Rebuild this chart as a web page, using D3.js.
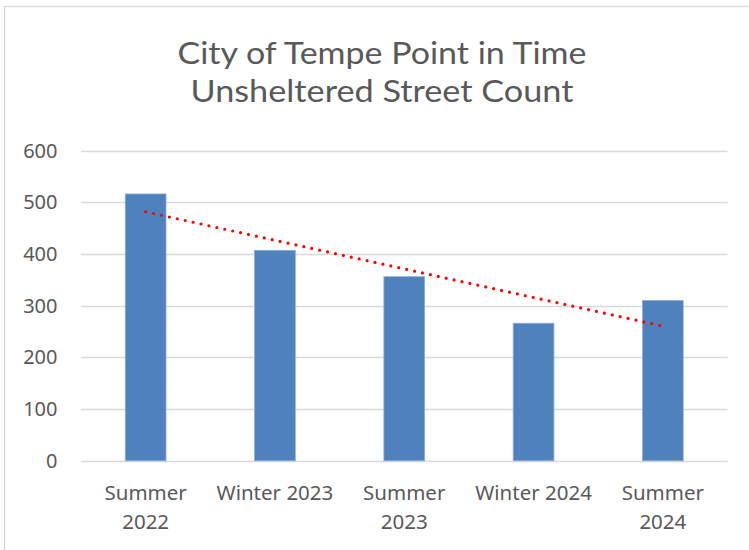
<!DOCTYPE html>
<html><head><meta charset="utf-8">
<script src="https://cdn.jsdelivr.net/npm/d3@7"></script>
<style>html,body{margin:0;padding:0;background:#fff;}svg{display:block;}</style>
</head><body>
<script>
const categories = [["Summer","2022"],["Winter 2023"],["Summer","2023"],["Winter 2024"],["Summer","2024"]];
const values = [516, 407, 356, 266, 310];
const yTicks = [0, 100, 200, 300, 400, 500, 600];
const titleLines = ["City of Tempe Point in Time", "Unsheltered Street Count"];

const W = 749, H = 550;
const svg = d3.select("body").append("svg").attr("width", W).attr("height", H);
svg.append("rect").attr("x", 0).attr("y", 0).attr("width", W).attr("height", H).attr("fill", "#fff");
// chart border
svg.append("rect").attr("x", 4.5).attr("y", 6.5).attr("width", W + 10).attr("height", H + 10)
  .attr("fill", "none").attr("stroke", "#d9d9d9").attr("stroke-width", 1.3);

const font = "'Noto Sans', 'Open Sans', sans-serif";
const textColor = "#595959";

// title (Lato, widened slightly to match Calibri-like proportions)
const titleWidths = [409, 383];
svg.append("g").selectAll("text").data(titleLines).join("text")
  .attr("x", 382).attr("y", (d, i) => 63.5 + i * 38.5)
  .attr("text-anchor", "middle").attr("font-family", "Lato, 'Noto Sans', sans-serif").attr("font-size", 31)
  .attr("fill", textColor)
  .attr("textLength", (d, i) => titleWidths[i]).attr("lengthAdjust", "spacingAndGlyphs")
  .text(d => d);

const x = d3.scaleBand().domain(d3.range(categories.length)).range([81, 727.5]).paddingInner(0.685).paddingOuter(0.3425);
const xc = d3.scalePoint().domain(d3.range(categories.length)).range([81, 727.5]).padding(0.5);
const y = d3.scaleLinear().domain([0, 600]).range([460.8, 150.5]);

// gridlines
svg.append("g").selectAll("line").data(yTicks).join("line")
  .attr("x1", 81).attr("x2", 727.5)
  .attr("y1", d => Math.round(y(d)) + 0.5).attr("y2", d => Math.round(y(d)) + 0.5)
  .attr("stroke", "#d9d9d9").attr("stroke-width", 1.3);

// y axis labels
const yAxis = d3.axisLeft(y).tickValues(yTicks).tickSize(0).tickPadding(0);
const gy = svg.append("g").attr("transform", "translate(57.5,0)").call(yAxis);
gy.select(".domain").remove();
gy.selectAll("text").attr("font-family", font).attr("font-size", 20).attr("fill", textColor).attr("dy", "0.33em");

// bars
svg.append("g").selectAll("rect").data(values).join("rect")
  .attr("x", (d, i) => x(i)).attr("width", x.bandwidth())
  .attr("y", d => y(d)).attr("height", d => y(0) - y(d))
  .attr("fill", "#4f81bd").attr("stroke", "#8eaedb").attr("stroke-width", 0.8);

// x labels
const gx = svg.append("g");
categories.forEach((lines, i) => {
  const t = gx.append("text").attr("text-anchor", "middle").attr("font-family", font)
    .attr("font-size", 20.5).attr("fill", textColor);
  lines.forEach((l, j) => {
    t.append("tspan").attr("x", xc(i)).attr("y", 499.5 + j * 29).text(l);
  });
});

// linear trendline
const n = values.length;
const xs = d3.range(1, n + 1);
const mx = d3.mean(xs), my = d3.mean(values);
const slope = d3.sum(xs.map((v, i) => (v - mx) * (values[i] - my))) / d3.sum(xs.map(v => (v - mx) ** 2));
const icpt = my - slope * mx;
const trend = [0, n - 1].map(i => [xc(i), y(icpt + slope * (i + 1))]);
svg.append("path").attr("d", d3.line()(trend))
  .attr("fill", "none").attr("stroke", "#ff0000").attr("stroke-width", 3.2)
  .attr("stroke-linecap", "round").attr("stroke-dasharray", "0,8.1");
</script>
</body></html>
